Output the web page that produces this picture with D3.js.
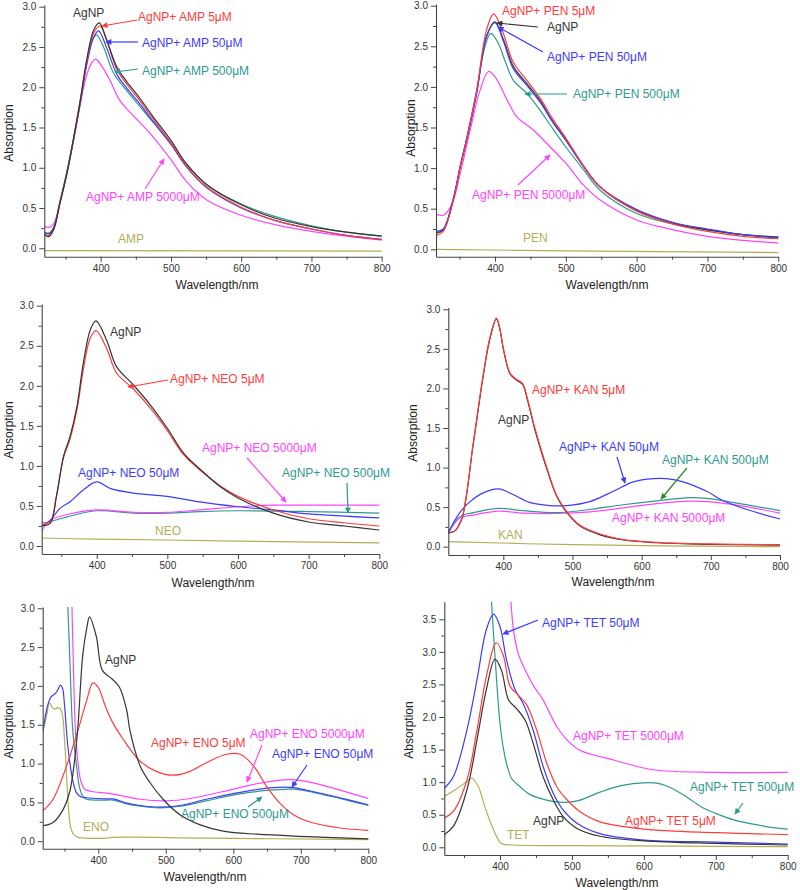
<!DOCTYPE html>
<html><head><meta charset="utf-8">
<script src="https://cdn.jsdelivr.net/npm/d3@7"></script>
<style>body{margin:0;background:#fff;} svg{display:block;font-family:"Liberation Sans",Arial,sans-serif;}</style>
</head><body><svg id="c" width="800" height="890"></svg>
<script>
// ---------- DATA: [wavelength nm, absorption] ----------
const ampAgNP=[[320,0.165],[326,0.145],[333,0.23],[342,0.56],[352,0.93],[361,1.34],[371,1.84],[380,2.34],[390,2.71],[398,2.8],[408,2.6],[423,2.25],[437,2.07],[456,1.86],[475,1.63],[500,1.34],[522,1.05],[551,0.79],[600,0.54],[650,0.37],[700,0.27],[750,0.2],[800,0.15]];
const amp5=[[320,0.18],[326,0.16],[333,0.24],[342,0.56],[352,0.93],[361,1.33],[371,1.82],[380,2.3],[390,2.67],[399,2.76],[409,2.57],[423,2.22],[437,2.04],[456,1.83],[475,1.6],[500,1.31],[522,1.02],[551,0.76],[600,0.51],[650,0.34],[700,0.24],[750,0.16],[800,0.11]];
const amp50=[[320,0.2],[326,0.18],[333,0.25],[342,0.57],[352,0.94],[361,1.33],[371,1.8],[380,2.27],[390,2.62],[397,2.7],[408,2.5],[423,2.16],[437,1.99],[456,1.79],[475,1.57],[500,1.29],[522,1.01],[551,0.75],[600,0.5],[650,0.34],[700,0.24],[750,0.16],[800,0.11]];
const amp500=[[320,0.2],[326,0.19],[333,0.26],[342,0.58],[352,0.96],[361,1.36],[371,1.85],[380,2.3],[388,2.58],[394,2.65],[404,2.5],[418,2.18],[435,1.98],[456,1.76],[475,1.56],[500,1.3],[522,1.04],[551,0.79],[600,0.55],[650,0.39],[700,0.28],[750,0.2],[800,0.15]];
const amp5000=[[320,0.27],[326,0.26],[333,0.3],[342,0.58],[352,0.95],[361,1.34],[371,1.8],[380,2.15],[387,2.3],[393,2.35],[400,2.28],[413,2.09],[427,1.84],[446,1.65],[470,1.43],[500,1.1],[522,0.83],[551,0.6],[600,0.41],[650,0.29],[700,0.21],[750,0.15],[800,0.1]];
const ampDrug=[[320,-0.03],[800,-0.035]];

const penAgNP=[[317,0.2],[327,0.24],[341,0.61],[351,1.02],[360,1.35],[374,1.92],[388,2.62],[400,2.8],[412,2.58],[426,2.25],[445,2.04],[463,1.84],[482,1.57],[500,1.35],[525,1.02],[548,0.77],[600,0.48],[652,0.32],[700,0.24],[750,0.18],[800,0.15]];
const pen5=[[317,0.17],[327,0.22],[341,0.6],[351,1.02],[360,1.36],[374,1.95],[388,2.7],[398,2.9],[410,2.7],[426,2.3],[445,2.08],[463,1.87],[482,1.6],[500,1.37],[525,1.03],[548,0.77],[600,0.47],[652,0.31],[700,0.22],[750,0.16],[800,0.13]];
const pen50=[[317,0.22],[327,0.25],[341,0.62],[351,1.02],[360,1.35],[374,1.92],[388,2.62],[400,2.79],[412,2.56],[426,2.22],[445,2.02],[463,1.82],[482,1.56],[500,1.34],[525,1.02],[548,0.77],[600,0.49],[652,0.33],[700,0.25],[750,0.18],[800,0.14]];
const pen500=[[317,0.2],[327,0.24],[341,0.61],[351,1.03],[360,1.37],[374,1.95],[386,2.5],[394,2.66],[404,2.55],[415,2.3],[426,2.08],[445,1.92],[463,1.72],[482,1.48],[500,1.26],[525,0.98],[548,0.73],[600,0.44],[652,0.31],[700,0.24],[750,0.18],[800,0.15]];
const pen5000=[[317,0.43],[327,0.42],[339,0.55],[351,0.94],[365,1.47],[379,1.96],[391,2.19],[402,2.1],[417,1.84],[431,1.63],[454,1.47],[478,1.26],[500,1.06],[525,0.79],[548,0.61],[600,0.36],[652,0.24],[700,0.16],[750,0.11],[800,0.08]];
const penDrug=[[317,0.0],[500,-0.02],[800,-0.04]];

const neoAgNP=[[322,0.26],[334,0.28],[343,0.62],[353,1.12],[362,1.36],[372,1.74],[381,2.28],[391,2.7],[399,2.81],[414,2.57],[428,2.24],[452,2.01],[476,1.76],[500,1.47],[523,1.16],[550,0.93],[575,0.74],[600,0.6],[650,0.41],[700,0.3],[750,0.25],[800,0.2]];
const neo5=[[322,0.3],[334,0.3],[343,0.62],[353,1.1],[362,1.33],[372,1.7],[381,2.2],[391,2.6],[399,2.69],[414,2.47],[428,2.16],[452,1.96],[476,1.72],[500,1.44],[523,1.14],[550,0.92],[575,0.75],[600,0.62],[650,0.45],[700,0.34],[750,0.29],[800,0.25]];
const neo50=[[322,0.25],[334,0.32],[348,0.47],[362,0.55],[381,0.7],[400,0.8],[419,0.72],[452,0.66],[500,0.62],[546,0.55],[600,0.49],[650,0.45],[700,0.4],[800,0.35]];
const neo500=[[322,0.24],[334,0.3],[357,0.36],[400,0.44],[452,0.41],[500,0.41],[546,0.43],[600,0.44],[700,0.43],[800,0.41]];
const neo5000=[[322,0.18],[334,0.32],[357,0.39],[400,0.45],[452,0.42],[500,0.42],[546,0.45],[600,0.49],[650,0.51],[700,0.51],[800,0.51]];
const neoDrug=[[322,0.1],[400,0.085],[500,0.075],[650,0.055],[800,0.04]];

const kanAgNP=[[320,0.17],[330,0.2],[340,0.35],[345,0.55],[350,0.85],[355,1.2],[360,1.5],[370,2.1],[380,2.6],[390,2.88],[395,2.75],[400,2.5],[410,2.18],[420,2.1],[428,2.05],[435,1.85],[445,1.5],[455,1.2],[463,0.98],[477,0.64],[492,0.43],[511,0.26],[540,0.15],[574,0.085],[622,0.05],[694,0.03],[800,0.02]];
const kan5=[[320,0.18],[330,0.2],[340,0.36],[345,0.56],[350,0.86],[355,1.21],[360,1.52],[370,2.12],[380,2.62],[390,2.89],[395,2.76],[400,2.51],[410,2.19],[420,2.11],[428,2.06],[435,1.87],[445,1.52],[455,1.22],[463,1.0],[477,0.65],[492,0.44],[511,0.27],[540,0.16],[574,0.09],[622,0.055],[694,0.035],[800,0.025]];
const kan50=[[320,0.17],[337,0.43],[352,0.57],[371,0.68],[393,0.73],[414,0.66],[438,0.56],[467,0.52],[492,0.52],[525,0.57],[559,0.7],[588,0.82],[617,0.86],[636,0.86],[660,0.82],[694,0.7],[718,0.58],[752,0.47],[800,0.35]];
const kan500=[[320,0.17],[337,0.38],[357,0.43],[393,0.485],[429,0.455],[477,0.43],[525,0.47],[573,0.53],[622,0.58],[670,0.62],[694,0.61],[742,0.545],[800,0.455]];
const kan5000=[[320,0.17],[337,0.36],[357,0.4],[393,0.45],[429,0.425],[477,0.42],[525,0.44],[573,0.49],[622,0.545],[670,0.575],[694,0.57],[742,0.52],[800,0.425]];
const kanDrug=[[320,0.065],[500,0.025],[800,0.0]];

const enoAgNP=[[318,0.2],[333,0.24],[348,0.41],[358,0.65],[365,1.05],[370,1.5],[377,2.4],[383,2.75],[387,2.89],[397,2.64],[406,2.2],[419,2.1],[431,1.99],[442,1.69],[447,1.42],[462,0.97],[477,0.75],[496,0.54],[521,0.34],[551,0.21],[585,0.13],[635,0.09],[709,0.06],[800,0.03]];
const eno5=[[318,0.39],[333,0.54],[353,0.97],[373,1.52],[383,1.82],[392,2.04],[400,1.98],[410,1.75],[420,1.55],[437,1.31],[462,1.03],[486,0.9],[511,0.85],[536,0.9],[560,1.01],[590,1.12],[610,1.12],[630,0.97],[649,0.71],[669,0.49],[689,0.34],[709,0.26],[758,0.17],[800,0.14]];
const eno50=[[318,1.42],[325,1.75],[330,1.86],[336,1.9],[340,1.95],[344,2.01],[347,1.97],[350,1.75],[354,1.3],[358,1.0],[363,0.75],[368,0.62],[375,0.57],[383,0.56],[412,0.545],[422,0.545],[442,0.49],[462,0.46],[491,0.44],[521,0.46],[560,0.54],[610,0.63],[659,0.69],[689,0.69],[718,0.64],[758,0.56],[800,0.47]];
const eno500=[[349,4.5],[352,3.6],[355,3.0],[358,2.3],[362,1.45],[368,0.95],[372,0.7],[377,0.58],[383,0.54],[412,0.53],[422,0.53],[442,0.48],[462,0.45],[491,0.43],[521,0.45],[560,0.52],[610,0.61],[659,0.66],[689,0.67],[718,0.63],[758,0.55],[800,0.46]];
const eno5000=[[355,4.5],[358,3.6],[361,3.0],[363,2.3],[366,1.45],[370,1.0],[374,0.78],[380,0.67],[390,0.64],[412,0.62],[427,0.6],[462,0.54],[501,0.52],[536,0.55],[585,0.64],[635,0.74],[674,0.79],[694,0.79],[733,0.72],[800,0.55]];
const enoDrug=[[318,1.42],[323,1.6],[328,1.78],[332,1.72],[336,1.7],[340,1.72],[344,1.7],[347,1.62],[350,1.3],[353,0.85],[356,0.4],[359,0.18],[363,0.09],[370,0.05],[380,0.04],[412,0.04],[420,0.05],[560,0.04],[800,0.02]];

const tetAgNP=[[322,0.19],[335,0.32],[354,0.88],[368,1.65],[381,2.42],[393,2.89],[402,2.72],[412,2.26],[423,2.13],[435,1.95],[446,1.6],[460,1.08],[474,0.73],[488,0.47],[507,0.29],[539,0.17],[600,0.1],[700,0.06],[800,0.035]];
const tet5=[[322,0.445],[335,0.55],[354,1.03],[368,1.8],[381,2.62],[395,3.14],[405,2.93],[414,2.47],[425,2.34],[437,2.19],[451,1.8],[465,1.29],[479,0.93],[493,0.73],[511,0.55],[539,0.39],[600,0.28],[700,0.225],[800,0.195]];
const tet50=[[322,0.9],[335,1.08],[354,1.8],[368,2.57],[381,3.34],[391,3.58],[400,3.39],[409,2.88],[421,2.42],[432,2.21],[446,1.8],[460,1.24],[474,0.83],[488,0.57],[507,0.37],[539,0.21],[600,0.11],[700,0.08],[800,0.05]];
const tet500=[[380,5.0],[385,4.3],[388,3.8],[392,3.1],[396,2.45],[400,1.9],[405,1.5],[410,1.25],[416,1.06],[428,0.93],[440,0.82],[456,0.75],[475,0.7],[493,0.69],[510,0.72],[540,0.85],[570,0.95],[600,0.99],[620,0.98],[640,0.9],[660,0.77],[680,0.62],[700,0.52],[725,0.42],[750,0.36],[775,0.31],[800,0.28]];
const tet5000=[[408,5.0],[412,4.3],[415,3.8],[418,3.4],[421,3.18],[426,2.95],[433,2.77],[446,2.49],[460,2.26],[479,1.85],[493,1.65],[511,1.49],[558,1.34],[613,1.19],[700,1.15],[800,1.15]];
const tetDrug=[[322,0.78],[340,0.9],[354,1.01],[361,1.06],[370,0.93],[379,0.62],[391,0.27],[402,0.06],[418,0.035],[500,0.025],[800,0.01]];

const xMajor=[400,500,600,700,800];
const xMinor=[350,450,550,650,750];
const yMajor3=[0,0.5,1.0,1.5,2.0,2.5,3.0];
const yMajor35=[0,0.5,1.0,1.5,2.0,2.5,3.0,3.5];
const drugNames=["AMP","PEN","NEO","KAN","ENO","TET"];

// ---------- STYLE / LAYOUT ----------
const COL={agnp:"#353535",c5:"#ff3b3b",c50:"#3c3cff",c500:"#2e9a8e",c5000:"#ff44ff",drug:"#b3ad55",green:"#2a8a2a"};
const layouts=[
 {xL:44.3,x400:100.7,x800:381.7,y0:248.3,yRefV:3.0,yRef:6.7,yB:256.7,yT:5,yt:yMajor3,
  ax:{ax:9,ay:133,bx:217,by:285}},
 {xL:436,x400:495,x800:778.3,y0:249.3,yRefV:3.0,yRef:5.7,yB:256.7,yT:4,yt:yMajor3,
  ax:{ax:411,ay:128,bx:607,by:285}},
 {xL:41.7,x400:96.7,x800:379.3,y0:546,yRefV:3.0,yRef:305.7,yB:554,yT:304,yt:yMajor3,
  ax:{ax:9,ay:430,bx:213,by:583}},
 {xL:448.3,x400:503.3,x800:780,y0:546.7,yRefV:3.0,yRef:309.3,yB:555,yT:307.5,yt:yMajor3,
  ax:{ax:413,ay:433,bx:613,by:582}},
 {xL:42.7,x400:98.3,x800:368.3,y0:841.2,yRefV:3.0,yRef:608.3,yB:848.7,yT:607,yt:yMajor3,
  ax:{ax:9,ay:730,bx:205,by:877}},
 {xL:444.3,x400:500,x800:787.7,y0:847.3,yRefV:3.5,yRef:619.3,yB:855,yT:601.7,yt:yMajor35,
  ax:{ax:409,ay:730,bx:617,by:883}}
];
const seriesSets=[
 [["drug",ampDrug],["c5000",amp5000],["c500",amp500],["c50",amp50],["c5",amp5],["agnp",ampAgNP]],
 [["drug",penDrug],["c5000",pen5000],["c500",pen500],["agnp",penAgNP],["c50",pen50],["c5",pen5]],
 [["drug",neoDrug],["c500",neo500],["c5000",neo5000],["c50",neo50],["c5",neo5],["agnp",neoAgNP]],
 [["drug",kanDrug],["c5000",kan5000],["c500",kan500],["c50",kan50],["agnp",kanAgNP],["c5",kan5]],
 [["drug",enoDrug],["c500",eno500],["c5000",eno5000],["c50",eno50],["c5",eno5],["agnp",enoAgNP]],
 [["drug",tetDrug],["c500",tet500],["c5000",tet5000],["c50",tet50],["c5",tet5],["agnp",tetAgNP]]
];
const notes=[
 [["AgNP","agnp",73,13],["AgNP+ AMP 5μM","c5",138,17,[137,20,102,26]],["AgNP+ AMP 50μM","c50",142,43,[138,42,106,42]],
  ["AgNP+ AMP 500μM","c500",142,71,[138,69,115,72]],["AgNP+ AMP 5000μM","c5000",86,197,[145,189,164,159]],["AMP","drug",118,239]],
 [["AgNP+ PEN 5μM","c5",502,11],["AgNP","agnp",547,27,[538,27,497,23]],["AgNP+ PEN 50μM","c50",547,57,[543,52,498,27]],
  ["AgNP+ PEN 500μM","c500",573,94,[567,94,525,94]],["AgNP+ PEN 5000μM","c5000",472,195,[518,185,550,155]],["PEN","drug",523,238]],
 [["AgNP","agnp",110,332],["AgNP+ NEO 5μM","c5",170,379,[168,380,128,387]],["AgNP+ NEO 5000μM","c5000",202,448,[247,458,286,502]],
  ["AgNP+ NEO 500μM","c500",282,473,[347,483,348,513]],["AgNP+ NEO 50μM","c50",78,473],["NEO","drug",155,531]],
 [["AgNP+ KAN 5μM","c5",532,390],["AgNP","agnp",498,420],["AgNP+ KAN 50μM","c50",559,447,[617,457,625,483]],
  ["AgNP+ KAN 500μM","c500",662,460,[687,468,661,499],"green"],["AgNP+ KAN 5000μM","c5000",612,518],["KAN","drug",498,535]],
 [["AgNP","agnp",105,660],["AgNP+ ENO 5000μM","c5000",250,734,[262,745,247,782]],["AgNP+ ENO 5μM","c5",151,743],
  ["AgNP+ ENO 50μM","c50",272,754,[307,765,292,787]],["AgNP+ ENO 500μM","c500",181,814,[248,807,262,797]],["ENO","drug",83,827]],
 [["AgNP+ TET 50μM","c50",542,623,[538,620,503,634]],["AgNP+ TET 5000μM","c5000",573,736],["AgNP+ TET 500μM","c500",690,787,[743,803,735,814]],
  ["AgNP+ TET 5μM","c5",625,821],["AgNP","agnp",533,821],["TET","drug",507,835]]
];

const svg=d3.select("#c");
const defs=svg.append("defs");
Object.entries(COL).forEach(([k,c])=>{
  defs.append("marker").attr("id","ah-"+k).attr("viewBox","0 0 10 10").attr("refX",9).attr("refY",5)
   .attr("markerWidth",7).attr("markerHeight",6).attr("markerUnits","userSpaceOnUse").attr("orient","auto")
   .append("path").attr("d","M0,0L10,5L0,10Z").attr("fill",c);
});

layouts.forEach((L,i)=>{
  const x0s=d3.scaleLinear().domain([400,800]).range([L.x400,L.x800]);
  const xs=d3.scaleLinear().domain([x0s.invert(L.xL),800]).range([L.xL,L.x800]);
  const y0s=d3.scaleLinear().domain([0,L.yRefV]).range([L.y0,L.yRef]);
  const ys=d3.scaleLinear().domain([y0s.invert(L.yB),y0s.invert(L.yT)]).range([L.yB,L.yT]);
  const g=svg.append("g");
  const cid="clip"+i;
  defs.append("clipPath").attr("id",cid).append("rect")
    .attr("x",L.xL).attr("y",L.yT).attr("width",L.x800-L.xL+1).attr("height",L.yB-L.yT);
  const line=d3.line().x(d=>xs(d[0])).y(d=>ys(d[1])).curve(d3.curveCatmullRom.alpha(0.5));
  const lg=g.append("g").attr("clip-path",`url(#${cid})`);
  seriesSets[i].forEach(([k,data])=>{
    lg.append("path").attr("d",line(data)).attr("fill","none").attr("stroke",COL[k])
      .attr("stroke-width",1.2).attr("stroke-linejoin","round");
  });
  // axes
  const yMinor=d3.range(0.25,L.yt[L.yt.length-1],0.5);
  const gy=g.append("g").attr("transform",`translate(${L.xL},0)`)
    .call(d3.axisLeft(ys).tickValues(L.yt).tickFormat(d3.format(".1f")).tickSize(5).tickSizeOuter(0).tickPadding(3));
  g.append("g").attr("transform",`translate(${L.xL},0)`)
    .call(d3.axisLeft(ys).tickValues(yMinor).tickFormat("").tickSize(3).tickSizeOuter(0))
    .select(".domain").remove();
  const gx=g.append("g").attr("transform",`translate(0,${L.yB})`)
    .call(d3.axisBottom(xs).tickValues(xMajor).tickFormat(d3.format("d")).tickSize(5).tickSizeOuter(0).tickPadding(3));
  g.append("g").attr("transform",`translate(0,${L.yB})`)
    .call(d3.axisBottom(xs).tickValues(xMinor).tickFormat("").tickSize(3).tickSizeOuter(0))
    .select(".domain").remove();
  g.selectAll(".domain").attr("stroke","#444").attr("stroke-width",1.1);
  g.selectAll(".tick line").attr("stroke","#444");
  g.selectAll(".tick text").attr("font-size",10).attr("fill","#333").attr("font-family","Liberation Sans, Arial, sans-serif");
  // titles
  g.append("text").attr("transform",`translate(${L.ax.ax},${L.ax.ay}) rotate(-90)`).attr("text-anchor","middle")
    .attr("dy","0.35em").attr("font-size",12).attr("fill","#222").text("Absorption");
  g.append("text").attr("x",L.ax.bx).attr("y",L.ax.by).attr("text-anchor","middle")
    .attr("dy","0.35em").attr("font-size",12).attr("fill","#222").text("Wavelength/nm");
  // annotations
  notes[i].forEach(n=>{
    const [t,k,x,y,arr,ac]=n;
    g.append("text").attr("x",x).attr("y",y).attr("dy","0.35em").attr("font-size",12)
      .attr("fill",COL[k]).text(t);
    if(arr){
      const ck=ac||k;
      g.append("line").attr("x1",arr[0]).attr("y1",arr[1]).attr("x2",arr[2]).attr("y2",arr[3])
        .attr("stroke",COL[ck]).attr("stroke-width",1.2).attr("marker-end",`url(#ah-${ck})`);
    }
  });
});
</script></body></html>
